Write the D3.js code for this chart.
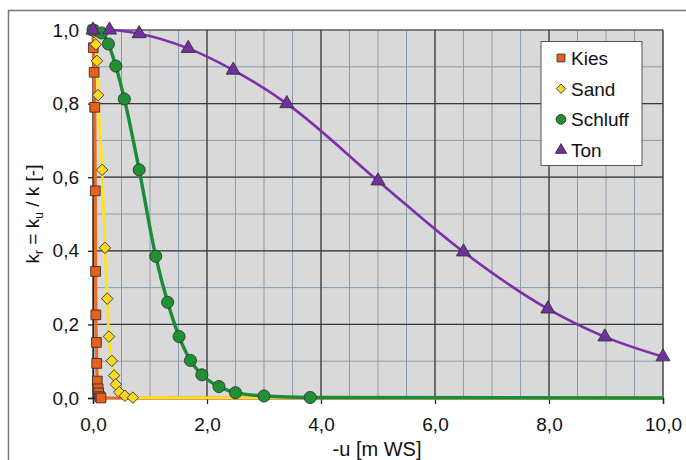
<!DOCTYPE html>
<html>
<head>
<meta charset="utf-8">
<script src="https://cdn.jsdelivr.net/npm/d3@7"></script>
<style>
  body { margin: 0; background: #fff; }
  text { font-family: "Liberation Sans", Arial, sans-serif; fill: #111; }
</style>
</head>
<body>
<div id="chart"></div>
<script>
// data
const kiesX = [0, 0.005, 0.02, 0.03, 0.04, 0.045, 0.05, 0.06, 0.065, 0.075, 0.09, 0.10, 0.12, 0.14];
const kiesY = [1.0, 0.952, 0.885, 0.79, 0.563, 0.344, 0.226, 0.151, 0.094, 0.046, 0.025, 0.014, 0.0035, 0.0];
const sandX = [0, 0.02, 0.05, 0.07, 0.09, 0.16, 0.21, 0.25, 0.28, 0.33, 0.37, 0.40, 0.46, 0.56, 0.70];
const sandY = [1.0, 0.994, 0.961, 0.916, 0.823, 0.62, 0.408, 0.27, 0.167, 0.101, 0.061, 0.037, 0.016, 0.006, 0.001];
const schluffX = [0, 0.15, 0.27, 0.40, 0.55, 0.81, 1.10, 1.31, 1.51, 1.71, 1.91, 2.21, 2.50, 3.0, 3.81];
const schluffY = [1.0, 0.992, 0.962, 0.902, 0.8125, 0.62, 0.385, 0.26, 0.167, 0.102, 0.063, 0.031, 0.0144, 0.0054, 0.0014];
const tonX = [0, 0.29, 0.81, 1.67, 2.46, 3.40, 5.0, 6.5, 7.98, 8.98, 10.0];
const tonY = [1.0, 1.0, 0.99, 0.95, 0.891, 0.80, 0.59, 0.397, 0.242, 0.166, 0.112];

const xTicks = [0, 2, 4, 6, 8, 10];
const yTicks = [0, 0.2, 0.4, 0.6, 0.8, 1.0];
const xMinor = d3.range(0, 10.01, 0.5);
const yMinor = d3.range(0, 1.001, 0.1);

const w = 686, h = 460;
const pLeft = 93, pRight = 663, pTop = 30, pBottom = 398;

const xScale = d3.scaleLinear().domain([0, 10]).range([pLeft, pRight]);
const yScale = d3.scaleLinear().domain([0, 1]).range([pBottom, pTop]);
const fmt = d => d3.format(".1f")(d).replace(".", ",");

const svg = d3.select('#chart').append('svg')
  .attr('width', w).attr('height', h);

// outer frame
svg.append('path')
  .attr('d', `M8.5,${h} V10.5 H${w}`)
  .attr('fill', 'none').attr('stroke', '#777').attr('stroke-width', 1.5);

// plot background
svg.append('rect')
  .attr('x', pLeft).attr('y', pTop)
  .attr('width', pRight - pLeft).attr('height', pBottom - pTop)
  .attr('fill', '#d9d9d9');

// minor grid
const grid = svg.append('g');
grid.selectAll('.xm').data(xMinor).enter().append('line')
  .attr('x1', d => xScale(d)).attr('x2', d => xScale(d))
  .attr('y1', pTop).attr('y2', pBottom)
  .attr('stroke', '#8c9cad').attr('stroke-width', 1);
grid.selectAll('.ym').data(yMinor).enter().append('line')
  .attr('x1', pLeft).attr('x2', pRight)
  .attr('y1', d => yScale(d)).attr('y2', d => yScale(d))
  .attr('stroke', '#8c9cad').attr('stroke-width', 1);
// major grid
grid.selectAll('.xM').data(xTicks).enter().append('line')
  .attr('x1', d => xScale(d)).attr('x2', d => xScale(d))
  .attr('y1', pTop).attr('y2', pBottom)
  .attr('stroke', '#3a3a3a').attr('stroke-width', 1.2);
grid.selectAll('.yM').data(yTicks).enter().append('line')
  .attr('x1', pLeft).attr('x2', pRight)
  .attr('y1', d => yScale(d)).attr('y2', d => yScale(d))
  .attr('stroke', '#3a3a3a').attr('stroke-width', 1.2);

// axes
const xAxis = svg.append('g')
  .attr('transform', `translate(0,${pBottom})`)
  .call(d3.axisBottom(xScale).tickValues(xTicks).tickFormat(fmt).tickSize(6).tickPadding(14));
const yAxis = svg.append('g')
  .attr('transform', `translate(${pLeft},0)`)
  .call(d3.axisLeft(yScale).tickValues(yTicks).tickFormat(fmt).tickSize(5).tickPadding(9));
[xAxis, yAxis].forEach(a => {
  a.select('.domain').attr('stroke', '#222').attr('stroke-width', 1.3);
  a.selectAll('.tick line').attr('stroke', '#222').attr('stroke-width', 1.3);
  a.selectAll('.tick text').attr('font-size', 19).attr('fill', '#111')
    .style('font-family', '"Liberation Sans", Arial, sans-serif');
});

// axis titles
svg.append('text')
  .attr('x', 377).attr('y', 456)
  .attr('text-anchor', 'middle').attr('font-size', 20)
  .text('-u [m WS]');

const yt = svg.append('text')
  .attr('transform', `translate(39,${(pTop + pBottom) / 2}) rotate(-90)`)
  .attr('text-anchor', 'middle').attr('font-size', 19);
yt.append('tspan').text('k');
yt.append('tspan').attr('font-size', 12).attr('dy', 4).text('r');
yt.append('tspan').attr('dy', -4).text(' = k');
yt.append('tspan').attr('font-size', 12).attr('dy', 4).text('u');
yt.append('tspan').attr('dy', -4).text(' / k [-]');

// series
const series = [
  {name: 'Kies', xs: kiesX, ys: kiesY, line: '#ee6a24', fill: '#e8601c', lw: 3.2, shape: d3.symbolSquare, size: 95},
  {name: 'Sand', xs: sandX, ys: sandY, line: '#ffe21a', fill: '#ffd820', lw: 2.6, shape: d3.symbolDiamond2, size: 85},
  {name: 'Schluff', xs: schluffX, ys: schluffY, line: '#1b8c3a', fill: '#1e9232', lw: 3.4, shape: d3.symbolCircle, size: 115},
  {name: 'Ton', xs: tonX, ys: tonY, line: '#7b2fa8', fill: '#7030a0', lw: 2.6, shape: d3.symbolTriangle, size: 85}
];

const lineGen = d3.line()
  .x(d => xScale(d[0])).y(d => yScale(d[1]))
  .curve(d3.curveMonotoneX);

series.forEach(s => {
  const pts = s.xs.map((x, i) => [x, s.ys[i]]);
  if (pts[pts.length - 1][0] < 10) pts.push([10, 0]);
  svg.append('path')
    .datum(pts)
    .attr('d', lineGen)
    .attr('fill', 'none')
    .attr('stroke', s.line)
    .attr('stroke-width', s.lw);
});

series.forEach(s => {
  svg.append('g').selectAll('path')
    .data(s.xs.map((x, i) => [x, s.ys[i]]))
    .enter().append('path')
    .attr('transform', d => `translate(${xScale(d[0])},${yScale(d[1])})`)
    .attr('d', d3.symbol().type(s.shape).size(s.size))
    .attr('fill', s.fill)
    .attr('stroke', '#333')
    .attr('stroke-width', 0.9);
});

// legend
const lg = svg.append('g');
lg.append('rect')
  .attr('x', 541).attr('y', 41.5).attr('width', 101).attr('height', 124)
  .attr('fill', '#fff').attr('stroke', '#555').attr('stroke-width', 1);
series.forEach((s, i) => {
  const yy = 58 + i * 30.7;
  lg.append('path')
    .attr('transform', `translate(561,${yy})`)
    .attr('d', d3.symbol().type(s.shape).size(s.size * 0.65))
    .attr('fill', s.fill).attr('stroke', '#333').attr('stroke-width', 0.9);
  lg.append('text')
    .attr('x', 571).attr('y', yy + 7)
    .attr('font-size', 19)
    .text(s.name);
});
</script>
</body>
</html>
